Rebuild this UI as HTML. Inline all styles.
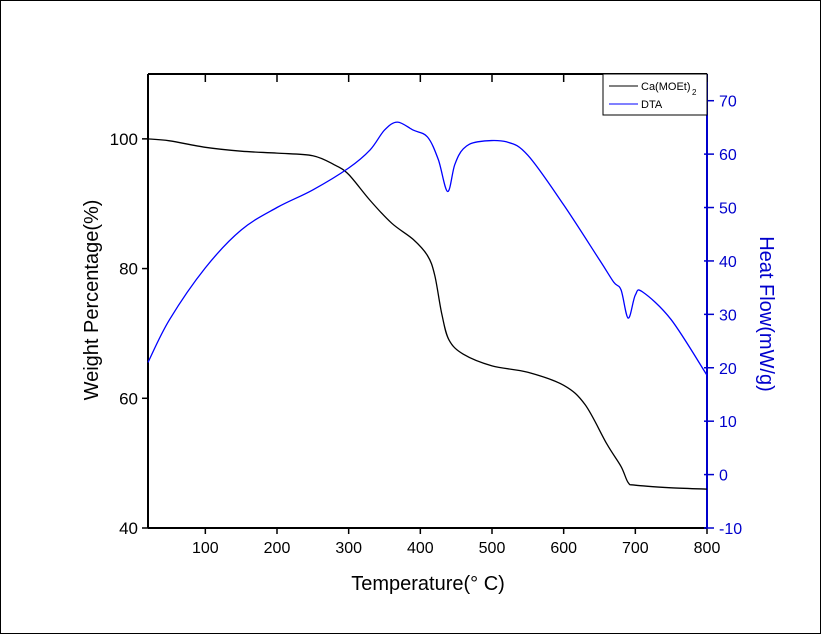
<!DOCTYPE html>
<html><head><meta charset="utf-8"><style>
body{margin:0;background:#fff;}
svg{display:block;font-family:"Liberation Sans",sans-serif;}
</style></head><body>
<svg id="chart" width="821" height="634" viewBox="0 0 821 634">
<rect x="0.5" y="0.5" width="820" height="633" fill="#fff" stroke="#000"/>
<g id="g"></g>
</svg>
<script>
const tempTicks=[100,200,300,400,500,600,700,800];
const weightTicks=[40,60,80,100];
const heatTicks=[-10,0,10,20,30,40,50,60,70];
const tgaT=[20,50,100,150,200,250,280,300,330,360,390,410,420,430,440,460,500,550,600,630,660,680,690,700,750,800];
const tgaW=[100,99.7,98.7,98.1,97.8,97.4,96,94.5,90.5,87,84.5,82,79,73,69,66.8,65,64,62,59,53,49.5,47,46.6,46.2,46];
const dtaT=[20,50,100,150,200,250,300,330,350,368,390,410,425,438,448,460,480,520,550,600,650,670,680,690,700,710,750,800];
const dtaH=[21,29,38.7,45.8,50,53.3,57.4,60.8,64.5,66,64.5,63.2,59,53,58,61,62.3,62.3,59.8,50.5,40.2,36,34.6,29.3,33.6,34.2,29,18.6];
const L=148,R=707,T=74,B=528;
const x=v=>L+(v-20)/(780)*(R-L);
const yl=v=>B-(v-40)/70*(B-T);
const yr=v=>B-(v+10)/85*(B-T);
const g=document.getElementById('g');const NS='http://www.w3.org/2000/svg';
function mk(t,a,p){const e=document.createElementNS(NS,t);for(const k in a)e.setAttribute(k,a[k]);(p||g).appendChild(e);return e;}
function txt(s,a){const e=mk('text',a);e.textContent=s;return e;}
let e;
e=mk('line',{x1:L,y1:T,x2:L,y2:B,stroke:'#000','stroke-width':2});

e=mk('line',{x1:L,y1:B,x2:R,y2:B,stroke:'#000','stroke-width':2});

e=mk('line',{x1:L,y1:T,x2:R,y2:T,stroke:'#000','stroke-width':2});

e=mk('line',{x1:R,y1:T,x2:R,y2:B,stroke:'#0000cc','stroke-width':2});

tempTicks.forEach(v=>{
 e=mk('line',{x1:x(v),y1:B,x2:x(v),y2:B+6,stroke:'#000','stroke-width':1.5});
 
 e=mk('line',{x1:x(v),y1:T,x2:x(v),y2:T+8,stroke:'#000','stroke-width':1.5});
 
 e=txt(v,{x:x(v),y:B+25,'text-anchor':'middle','font-size':16});
 
});
weightTicks.forEach(v=>{
 e=mk('line',{x1:L-6,y1:yl(v),x2:L,y2:yl(v),stroke:'#000','stroke-width':1.5});
 
 e=txt(v,{x:L-10,y:yl(v)+6,'text-anchor':'end','font-size':17});
 
});
heatTicks.forEach(v=>{
 e=mk('line',{x1:R-3,y1:yr(v),x2:R+7,y2:yr(v),stroke:'#0000cc','stroke-width':1.5});
 
 e=txt(v,{x:R+12,y:yr(v)+6,'font-size':16,fill:'#0000cc'});
 
});
e=txt('Temperature(° C)',{x:428,y:590,'text-anchor':'middle','font-size':20});

e=txt('Weight Percentage(%)',{x:98,y:300,'text-anchor':'middle','font-size':20,transform:'rotate(-90 98 300)'});

e=txt('Heat Flow(mW/g)',{x:760,y:314,'text-anchor':'middle','font-size':20,fill:'#0000cc',transform:'rotate(90 760 314)'});

function path(X,Y,fy,c,n){
 const P=X.map((v,i)=>[x(v),fy(Y[i])]);
 let d='M'+P[0][0].toFixed(1)+','+P[0][1].toFixed(1);
 for(let i=0;i<P.length-1;i++){
  const p0=P[i-1]||P[i],p1=P[i],p2=P[i+1],p3=P[i+2]||P[i+1];
  const c1=[p1[0]+(p2[0]-p0[0])/6,p1[1]+(p2[1]-p0[1])/6];
  const c2=[p2[0]-(p3[0]-p1[0])/6,p2[1]-(p3[1]-p1[1])/6];
  d+='C'+c1.map(q=>q.toFixed(1)).join(',')+' '+c2.map(q=>q.toFixed(1)).join(',')+' '+p2.map(q=>q.toFixed(1)).join(',');
 }
 const p=mk('path',{d:d,fill:'none',stroke:c,'stroke-width':1.3,'stroke-linejoin':'round'});
 
}
path(tgaT,tgaW,yl,'#000','tga-line');
path(dtaT,dtaH,yr,'#0000ff','dta-line');
e=mk('rect',{x:603,y:74,width:104,height:41,fill:'#fff',stroke:'#000','stroke-width':1});

e=mk('line',{x1:609,y1:86,x2:638,y2:86,stroke:'#000'});

e=txt('Ca(MOEt)',{x:641,y:90,'font-size':11});

txt('2',{x:692,y:95,'font-size':8});
e=mk('line',{x1:609,y1:104,x2:638,y2:104,stroke:'#0000ff'});

e=txt('DTA',{x:641,y:108,'font-size':11});

</script>
</body></html>
